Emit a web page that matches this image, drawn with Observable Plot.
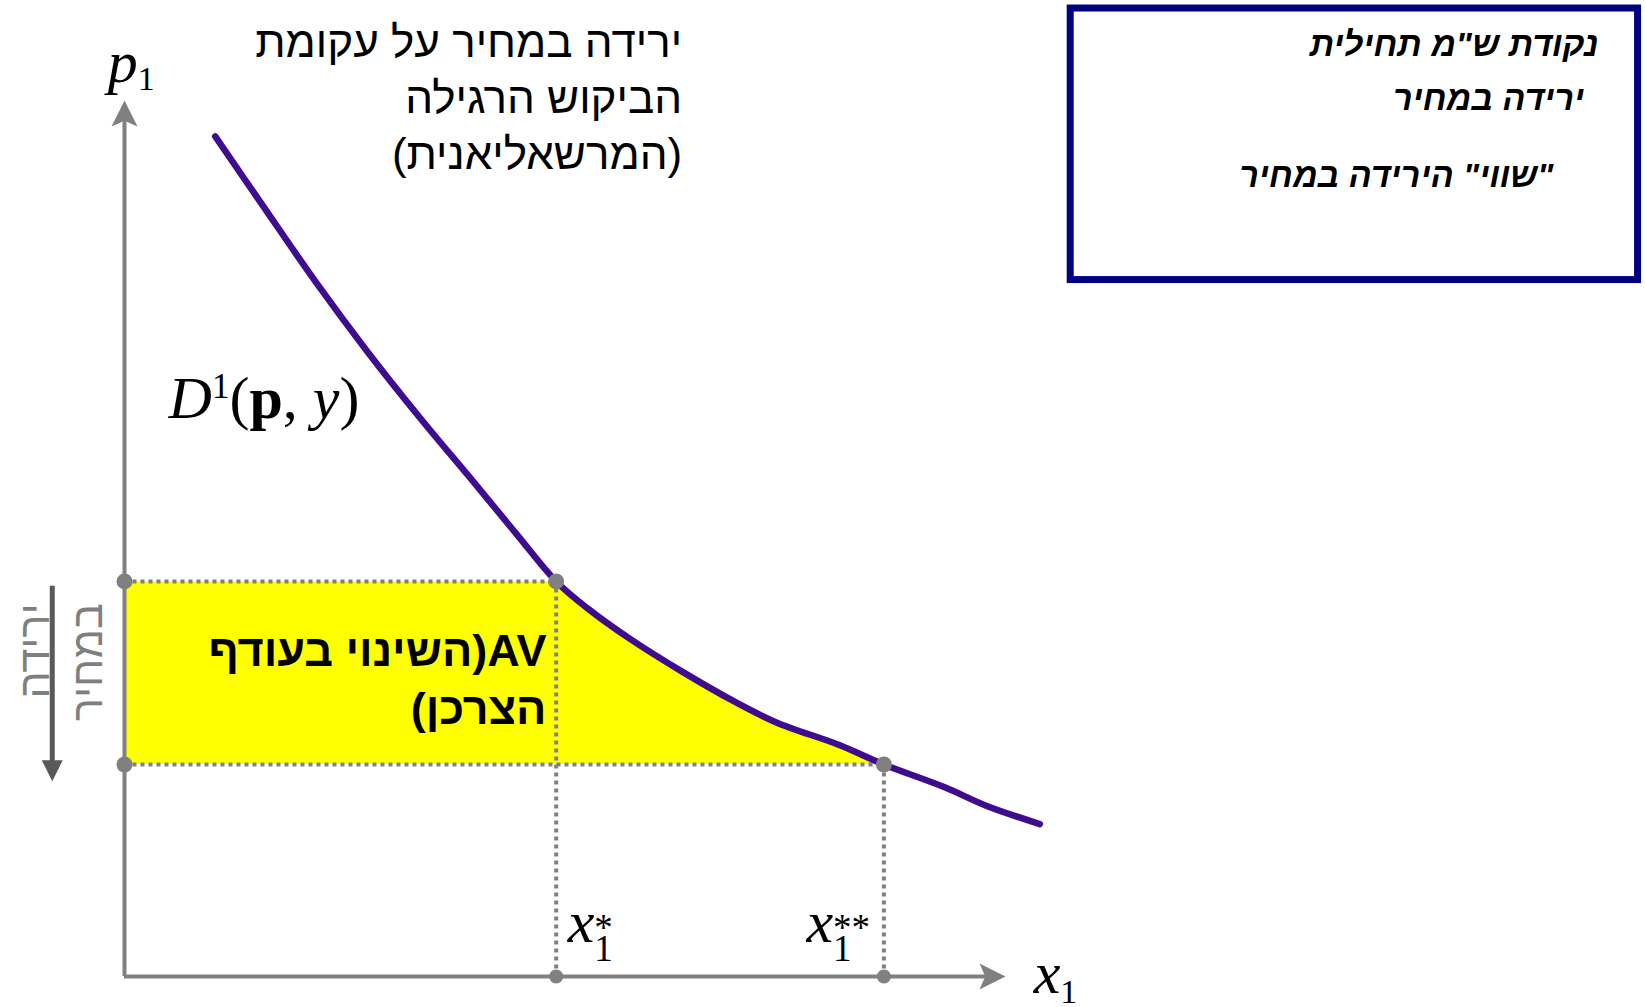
<!DOCTYPE html>
<html>
<head>
<meta charset="utf-8">
<script src="https://cdn.jsdelivr.net/npm/d3@7"></script>
<script src="https://cdn.jsdelivr.net/npm/@observablehq/plot@0.6"></script>
<style>
html, body { margin: 0; padding: 0; background: #fff; }
text.rtl { direction: rtl; unicode-bidi: embed; }
</style>
</head>
<body>
<div id="chart"></div>
<script>
// ---- data (quantity x1 and price p1 in chart units) ----
const curveX = [1.03, 1.57, 2.17, 2.76, 3.36, 3.95, 4.45, 4.90, 5.26, 5.73, 6.33, 6.92, 7.40, 8.12, 8.62, 9.31, 9.78, 10.39];
const curveP = [9.59, 8.80, 7.93, 7.13, 6.37, 5.66, 5.05, 4.51, 4.20, 3.86, 3.48, 3.14, 2.90, 2.64, 2.42, 2.16, 1.95, 1.74];
const prices = [4.51, 2.42];        // p1 before and after the price fall
const quantities = [4.90, 8.62];    // x1*, x1**
const axisMax = [10, 10];           // ends of the x1 and p1 axes

// texts
const titleLines = ["ירידה במחיר על עקומת", "הביקוש הרגילה", "(המרשאליאנית)"];
const areaLines = ["AV(השינוי בעודף", "הצרכן)"];
const legendLines = ["נקודת ש\"מ תחילית", "ירידה במחיר", "\"שווי\" הירידה במחיר"];
const sideLines = ["ירידה", "במחיר"];
const mathLabels = ["p1", "D1(p, y)", "x1*", "x1**", "x1"];

// ---- layout (annotation anchors in chart units) ----
const titlePos = [[6.33, 10.50], [6.33, 9.86], [6.33, 9.22]];
const areaPos = [[4.79, 3.54], [4.79, 2.88]];
const legendPos = [[16.73, 10.51], [16.57, 9.89], [16.22, 9.01]];
const sidePos = [[-0.86, 4.26], [-0.25, 4.26]];
const mathPos = [[-0.19, 10.21], [0.50, 6.38], [5.03, 0.39], [7.74, 0.39], [10.32, -0.19]];
const legendBox = {x1: 10.74, x2: 17.18, y1: 11.05, y2: 7.95};
const sideArrow = {x: -0.82, y1: 4.46, y2: 2.23};

// ---- derived tables ----
const curve = curveX.map((x, i) => ({x, p: curveP[i]}));
const eq = quantities.map((x, i) => ({x, p: prices[i]}));
const areaData = curve.filter(d => d.x >= quantities[0] - 1e-9 && d.x <= quantities[1] + 1e-9);
const lines = (texts, pos, kind) => texts.map((t, i) => ({t, kind, x: pos[i][0], y: pos[i][1]}));

// arrowhead symbols
function arrowSymbol(dir, notch) {
  return {
    draw(ctx, size) {
      const r = Math.sqrt(size / Math.PI), w = r * 0.5, n = r * notch;
      const pts = [[0, 0], [-w, r], [0, n], [w, r]];
      const rot = {up: ([a, b]) => [a, b], right: ([a, b]) => [-b, a], down: ([a, b]) => [-a, -b]}[dir];
      const q = pts.map(rot);
      ctx.moveTo(q[0][0], q[0][1]);
      for (let k = 1; k < q.length; k++) ctx.lineTo(q[k][0], q[k][1]);
      ctx.closePath();
    }
  };
}

const gray = "#808080";
const dotted = {stroke: "#808080", strokeWidth: 4, strokeDasharray: "4,4"};
const serif = "'Liberation Serif', 'Times New Roman', serif";
const sans = "'Liberation Sans', Arial, sans-serif";
const txt = {x: "x", y: "y", text: "t", ariaLabel: "kind", lineAnchor: "bottom"};

const chart = Plot.plot({
  width: 1645,
  height: 1007,
  margin: 0,
  x: {domain: [0, 10], range: [124, 1005], axis: null},
  y: {domain: [0, 10], range: [976, 100], axis: null},
  style: {background: "#fff", overflow: "visible"},
  marks: [
    // consumer surplus change (yellow)
    Plot.areaX(areaData, {y: "p", x1: 0, x2: "x", fill: "#ffff00", curve: "catmull-rom"}),
    Plot.areaX([{p: prices[0]}, {p: prices[1]}], {y: "p", x1: 0, x2: quantities[0], fill: "#ffff00"}),
    // dotted guides
    Plot.link(eq, {x1: 0, x2: "x", y1: "p", y2: "p", ...dotted}),
    Plot.link(eq, {x1: "x", x2: "x", y1: 0, y2: "p", ...dotted}),
    // axes
    Plot.ruleX([0], {y1: 0, y2: axisMax[1] - 0.2, stroke: gray, strokeWidth: 4}),
    Plot.ruleY([0], {x1: 0, x2: axisMax[0] - 0.2, stroke: gray, strokeWidth: 4}),
    Plot.dot([{x: 0, y: axisMax[1]}], {x: "x", y: "y", r: 26, symbol: arrowSymbol("up", 0.78), fill: gray, stroke: "none"}),
    Plot.dot([{x: axisMax[0], y: 0}], {x: "x", y: "y", r: 26, symbol: arrowSymbol("right", 0.78), fill: gray, stroke: "none"}),
    // demand curve
    Plot.line(curve, {x: "x", y: "p", stroke: "#3f0c8f", strokeWidth: 6.5, curve: "catmull-rom"}),
    // points
    Plot.dot(eq, {x: 0, y: "p", r: 8, fill: gray}),
    Plot.dot(eq, {x: "x", y: "p", r: 8, fill: gray}),
    Plot.dot(eq, {x: "x", y: 0, r: 7, fill: gray}),
    // side arrow "price fall"
    Plot.link([sideArrow], {x1: "x", x2: "x", y1: "y1", y2: d => d.y2 + 0.2, stroke: "#595959", strokeWidth: 5}),
    Plot.dot([sideArrow], {x: "x", y: "y2", r: 21, symbol: arrowSymbol("down", 1.0), fill: "#595959", stroke: "none"}),
    Plot.text(lines(sideLines, sidePos, "rtl"), {...txt, rotate: -90, textAnchor: "start",
      fontSize: 43, fontFamily: sans, fill: "#7f7f7f"}),
    // title
    Plot.text(lines(titleLines, titlePos, "rtl"), {...txt, textAnchor: "start",
      fontSize: 44, fontFamily: sans, fill: "#000"}),
    // area label
    Plot.text(lines(areaLines, areaPos, "rtl"), {...txt, textAnchor: "start",
      fontSize: 45, fontWeight: "bold", fontFamily: sans, fill: "#000"}),
    // legend box
    Plot.rect([legendBox], {x1: "x1", x2: "x2", y1: "y1", y2: "y2", fill: "none", stroke: "#000080", strokeWidth: 7}),
    Plot.text(lines(legendLines, legendPos, "rtl"), {...txt, textAnchor: "start",
      fontSize: 34, fontWeight: "bold", fontStyle: "italic", fontFamily: sans, fill: "#000"}),
    // math labels
    Plot.text(lines(mathLabels, mathPos, "math"), {...txt, textAnchor: "start",
      fontSize: 60, fontFamily: serif, fill: "#000"})
  ]
});

// rich formatting (italic, sub/superscripts) of the math labels
const markup = {
  "p1": '<tspan font-style="italic">p</tspan><tspan font-size="34" dy="8">1</tspan>',
  "x1": '<tspan font-style="italic">x</tspan><tspan font-size="34" dy="10">1</tspan>',
  "x1*": '<tspan font-style="italic">x</tspan><tspan font-size="37" dy="-2">*</tspan><tspan font-size="37" dx="-18.5" dy="21">1</tspan>',
  "x1**": '<tspan font-style="italic">x</tspan><tspan font-size="37" dy="-2">**</tspan><tspan font-size="37" dx="-37" dy="21">1</tspan>',
  "D1(p, y)": '<tspan font-style="italic">D</tspan><tspan font-size="35" dy="-20">1</tspan><tspan dy="20">(</tspan><tspan font-weight="bold">p</tspan>, <tspan font-style="italic">y</tspan>)'
};
d3.select(chart).selectAll("text").each(function () {
  const kind = this.getAttribute("aria-label");
  if (kind === "math") {
    const t = this.textContent;
    if (markup[t]) this.innerHTML = markup[t];
  } else if (kind === "rtl") {
    this.setAttribute("direction", "rtl");
    this.classList.add("rtl");
  }
});

document.getElementById("chart").appendChild(chart);
</script>
</body>
</html>
